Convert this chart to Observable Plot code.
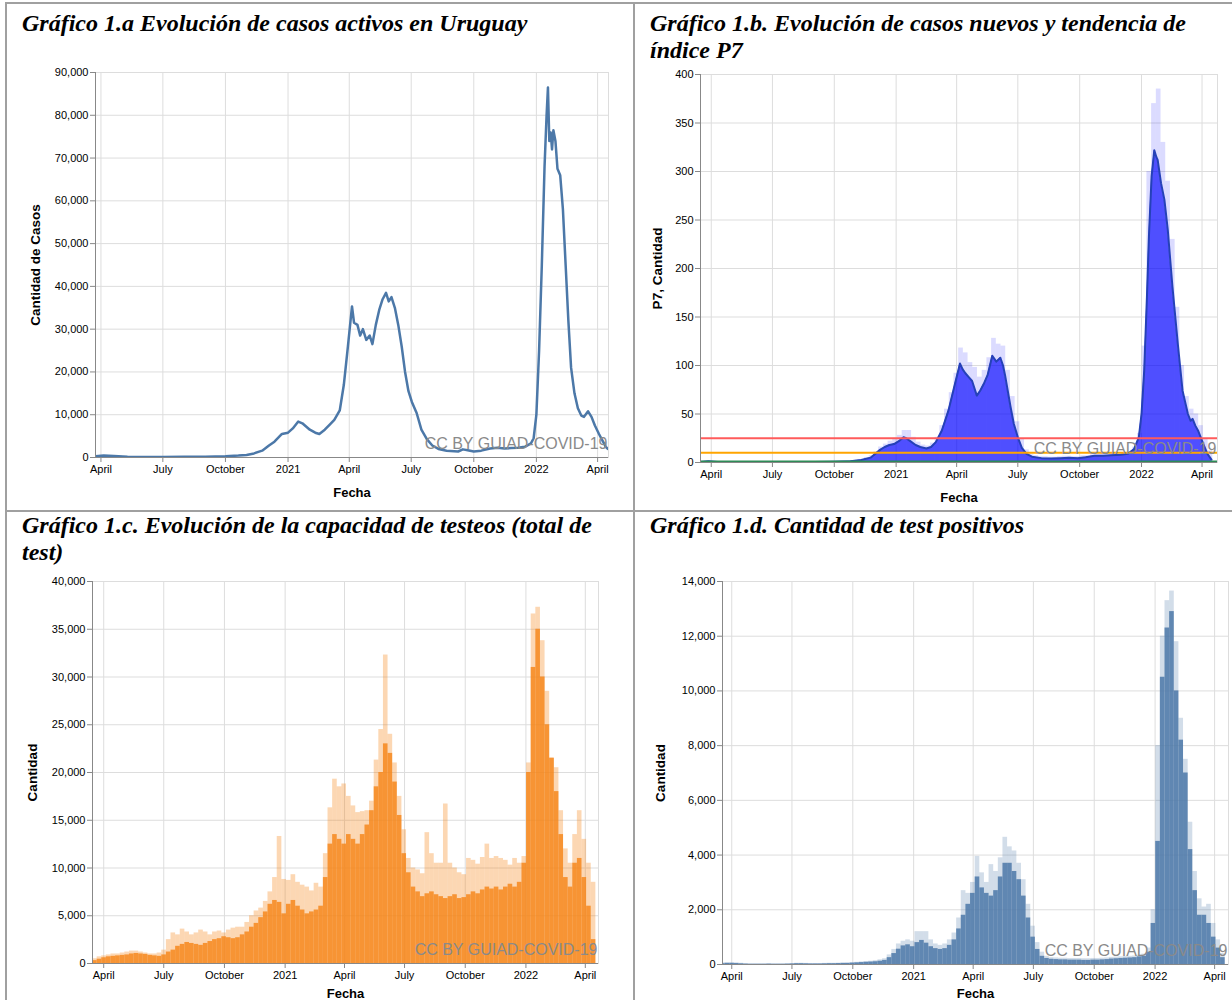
<!DOCTYPE html>
<html><head><meta charset="utf-8">
<script src="https://cdn.jsdelivr.net/npm/d3@7"></script>
<script src="https://cdn.jsdelivr.net/npm/@observablehq/plot@0.6"></script>
<style>
html,body{margin:0;padding:0;background:#fff;}
body{width:1232px;height:1000px;position:relative;overflow:hidden;font-family:"Liberation Sans",Arial,sans-serif;}
.bline{position:absolute;background:#a0a0a0;}
.title{position:absolute;font-family:"Liberation Serif","Times New Roman",serif;font-weight:bold;font-style:italic;font-size:24px;line-height:27px;color:#000;white-space:nowrap;}
svg.chart{position:absolute;overflow:visible;}
</style></head><body>
<div class="bline" style="left:5px;top:2px;width:1240px;height:2px"></div>
<div class="bline" style="left:5px;top:2px;width:2px;height:1000px"></div>
<div class="bline" style="left:633px;top:2px;width:2px;height:1000px"></div>
<div class="bline" style="left:5px;top:510px;width:1240px;height:2px"></div>
<div class="title" style="left:22px;top:10px">Gráfico 1.a Evolución de casos activos en Uruguay</div>
<div class="title" style="left:650px;top:10px">Gráfico 1.b. Evolución de casos nuevos y tendencia de<br>índice P7</div>
<div class="title" style="left:22px;top:512px">Gráfico 1.c. Evolución de la capacidad de testeos (total de<br>test)</div>
<div class="title" style="left:650px;top:512px">Gráfico 1.d. Cantidad de test positivos</div>
<script>
// ---------- DATA ----------
const tickDates = ["2020-04-01","2020-07-01","2020-10-01","2021-01-01","2021-04-01","2021-07-01","2021-10-01","2022-01-01","2022-04-01"];
const tickLabels = ["April","July","October","2021","April","July","October","2022","April"];
const watermark = "CC BY GUIAD-COVID-19";

// Gráfico 1.a: casos activos
const activeDates = ["2020-03-24","2020-04-05","2020-04-20","2020-05-10","2020-06-01","2020-07-01","2020-08-01","2020-09-01","2020-10-01","2020-10-20","2020-11-01","2020-11-12","2020-11-24","2020-12-04","2020-12-12","2020-12-23","2021-01-01","2021-01-08","2021-01-16","2021-01-22","2021-02-02","2021-02-10","2021-02-16","2021-02-24","2021-03-04","2021-03-10","2021-03-18","2021-03-24","2021-03-30","2021-04-05","2021-04-08","2021-04-13","2021-04-17","2021-04-21","2021-04-26","2021-05-01","2021-05-05","2021-05-10","2021-05-15","2021-05-20","2021-05-25","2021-05-29","2021-06-02","2021-06-07","2021-06-12","2021-06-17","2021-06-22","2021-06-27","2021-07-02","2021-07-09","2021-07-16","2021-07-24","2021-08-01","2021-08-10","2021-08-22","2021-09-08","2021-09-15","2021-09-22","2021-10-01","2021-10-12","2021-10-25","2021-11-05","2021-11-15","2021-11-25","2021-12-05","2021-12-15","2021-12-24","2021-12-28","2022-01-01","2022-01-05","2022-01-09","2022-01-13","2022-01-16","2022-01-18","2022-01-20","2022-01-22","2022-01-24","2022-01-26","2022-01-29","2022-02-01","2022-02-05","2022-02-09","2022-02-13","2022-02-17","2022-02-21","2022-02-26","2022-03-03","2022-03-08","2022-03-12","2022-03-18","2022-03-23","2022-03-28","2022-04-03","2022-04-08","2022-04-13","2022-04-16"];
const activeValues = [300,450,350,200,120,100,150,200,300,450,600,950,1600,2800,3700,5500,5800,6800,8400,8000,6500,5800,5500,6500,7800,8800,11000,17000,26000,35300,31500,31000,28500,30000,27500,28500,26500,31000,34500,37000,38500,36500,37500,35000,31000,26000,20000,15500,13000,10400,6500,4300,2800,2000,1600,1400,1900,1700,1400,1600,2100,2300,2100,2200,2300,2500,3300,4500,10000,25000,45000,68000,80000,86500,74000,76000,72000,76500,74000,67500,66000,58000,45000,32000,21000,15000,11500,9800,9500,10800,9500,7500,5500,4000,2500,2000];

// Gráfico 1.b: índice P7 (tendencia) y umbrales
const p7Dates = ["2020-03-16","2020-03-28","2020-04-10","2020-05-01","2020-06-01","2020-07-01","2020-08-01","2020-09-01","2020-10-01","2020-10-25","2020-11-10","2020-11-24","2020-12-08","2020-12-15","2020-12-22","2020-12-29","2021-01-05","2021-01-12","2021-01-16","2021-01-22","2021-01-30","2021-02-06","2021-02-15","2021-02-22","2021-03-01","2021-03-10","2021-03-20","2021-03-27","2021-04-06","2021-04-10","2021-04-14","2021-04-19","2021-04-24","2021-05-01","2021-05-06","2021-05-12","2021-05-17","2021-05-24","2021-05-30","2021-06-05","2021-06-09","2021-06-12","2021-06-16","2021-06-20","2021-06-25","2021-07-01","2021-07-07","2021-07-14","2021-07-22","2021-08-05","2021-08-20","2021-09-03","2021-09-15","2021-09-28","2021-10-10","2021-10-23","2021-11-05","2021-11-17","2021-12-01","2021-12-12","2021-12-21","2021-12-28","2022-01-01","2022-01-05","2022-01-09","2022-01-12","2022-01-16","2022-01-20","2022-01-23","2022-01-25","2022-01-30","2022-02-04","2022-02-09","2022-02-16","2022-02-24","2022-03-03","2022-03-11","2022-03-15","2022-03-18","2022-03-22","2022-03-26","2022-04-03","2022-04-09","2022-04-15"];
const p7Values = [0.5,1.2,0.6,0.3,0.3,0.4,0.5,0.5,0.8,1.2,2.5,5,13,16,18,19,22,26,25,22,18,16,14.5,16,21,33,54,74,102,96,92,88,84,69,74,82,90,110,104,108,100,90,74,58,40,26,15,9,6,4.5,4,4.5,5,4.5,5.5,7,7,7.5,8,9,14,26,50,95,170,233,295,322,315,312,288,271,240,181,122,74,50,43,45,38,33,19,9,3];
const thresholds = [25, 10, 1];
const thresholdColors = ["#ff5b5b", "#ffa500", "#2e8b57"];

// Valores semanales (semana que comienza el domingo indicado)
const firstWeek = "2020-03-15";
const p7Max = [1,1.5,1.5,1.2,1,0.8,0.6,0.5,0.5,0.5,
  0.5,0.5,0.5,0.5,0.6,0.7,0.8,0.8,0.7,0.7,
  0.7,0.7,0.8,0.8,0.8,0.9,1,1,1.2,1.4,
  1.6,1.8,2,2.5,3,5,7,11,16,19,
  22,25,28,33,33,26,21,18,17,20,
  26,38,55,72,92,118,113,103,98,88,
  95,108,128,122,120,95,68,42,24,13,
  8,7,6,6,5.5,5.5,6,6.5,6.5,6,
  6,7,7,8,9,9,9,9.5,9.5,10,
  10,11,16,30,120,300,370,385,330,290,
  230,160,100,68,55,50,38,24,12];

// Gráfico 1.c: total de tests
const testsCore = [300,450,600,700,750,800,850,900,1000,1050,
  1000,950,850,800,750,900,1200,1400,1800,2000,
  2200,2100,2000,1900,2100,2300,2500,2600,2800,2700,
  2600,2700,3000,3300,3800,4200,4800,5400,6200,6600,
  6400,5200,6200,6600,6000,5600,5200,5400,5600,6000,
  9000,12500,13500,13000,12500,13500,13000,12500,13500,14500,
  16000,18500,20000,23000,22000,19000,15500,11500,9500,8000,
  7500,7000,7300,7500,7200,7000,6800,7000,7200,6800,
  6900,7200,7500,7300,7700,8000,7800,8000,7700,8000,
  8300,8000,8500,10500,20000,31000,35000,30000,25000,21500,
  18000,13500,9000,8000,10500,11000,9000,6000,2500];
const testsMax = [500,700,800,900,1000,1000,1100,1200,1300,1300,
  1200,1100,1000,1000,1100,1400,2500,3200,3000,3600,
  3300,3000,3200,3500,3300,3000,3300,3400,3200,3500,
  3700,3800,3800,4300,5000,5500,5800,6500,7500,9000,
  13300,8800,8700,9300,8500,8200,8000,7600,8400,8000,
  11500,16300,19300,18500,18800,17500,16500,15800,15900,16000,
  17000,21300,24500,32300,24000,21000,17500,14000,11000,10000,
  9800,9400,13700,11500,10500,10500,16700,10500,10000,9500,
  9300,11000,10800,10400,11100,12500,11000,11200,11000,10800,
  10300,11000,10500,11200,21000,36600,37300,33800,28500,21500,
  20500,16000,12000,10500,13500,16000,13000,10500,8500];

// Gráfico 1.d: tests positivos
const positivesCore = [30,40,40,35,25,15,10,10,10,10,
  15,10,10,10,15,20,30,30,25,20,
  20,20,25,30,30,35,40,40,50,60,
  70,80,90,100,120,150,250,400,560,680,
  720,650,800,880,780,650,580,550,580,700,
  900,1300,1800,2200,2600,3200,2800,2600,2500,2700,
  3200,3700,3700,3400,3100,2500,1700,1000,550,300,
  220,190,180,170,170,160,160,160,150,150,
  160,160,170,180,200,210,220,230,240,250,
  280,300,450,1500,4500,10500,12300,12900,10000,8200,
  7000,4200,2700,1800,1800,1500,1000,600,250];
const positivesMax = [60,70,70,60,45,30,20,20,20,20,
  25,20,20,20,25,35,45,45,40,35,
  35,35,40,45,45,50,55,60,70,80,
  95,110,120,140,170,210,350,550,750,850,
  900,850,1200,1200,1200,900,750,700,750,900,
  1150,1700,2700,2600,3000,3950,3350,3000,3650,3400,
  3900,4650,4300,4150,3700,3100,2200,1400,800,450,
  300,250,240,230,230,220,220,220,210,210,
  220,220,230,240,260,270,280,290,300,310,
  340,380,600,2000,8000,12000,13300,13650,11800,9000,
  7500,5200,3400,2400,2100,2200,1500,900,400];

// ---------- BUILD ----------
const parse = d3.utcParse("%Y-%m-%d");
const ticks = tickDates.map(parse);
const labelOf = new Map(ticks.map((d, i) => [+d, tickLabels[i]]));
const weekStarts = testsCore.map((_, i) => d3.utcDay.offset(parse(firstWeek), 7 * i));
const weekly = vals => vals.map((v, i) => ({start: weekStarts[i], end: d3.utcDay.offset(weekStarts[i], 7), v}));
const series = (dates, vals) => dates.map((d, i) => ({date: parse(d), v: vals[i]}));

function panel({left, top, right, bottom, xDomain, yMax, yStep, yLabel, yTitleX, xTitleY, marks}) {
  const mL = 85, mT = 12, mR = 20, mB = 48;
  const yTicks = d3.range(0, yMax + 1, yStep);
  const svg = Plot.plot({
    width: (right - left) + mL + mR,
    height: (bottom - top) + mT + mB,
    marginLeft: mL, marginTop: mT, marginRight: mR, marginBottom: mB,
    style: {fontFamily: "'Liberation Sans', Arial, sans-serif", fontSize: "11px", background: "transparent", overflow: "visible", color: "#000"},
    x: {type: "utc", domain: xDomain.map(parse)},
    y: {domain: [0, yMax]},
    marks: [
      Plot.gridX({ticks, stroke: "#ddd", strokeOpacity: 1}),
      Plot.gridY({ticks: yTicks, stroke: "#ddd", strokeOpacity: 1}),
      Plot.frame({stroke: "#ddd"}),
      ...marks,
      Plot.text([watermark], {frameAnchor: "bottom-right", textAnchor: "end", lineAnchor: "middle", dx: -1, dy: -14, fontSize: 16, fill: "#8a8a8a"}),
      Plot.ruleY([0], {stroke: "#888"}),
      Plot.ruleX([parse(xDomain[0])], {stroke: "#888"}),
      Plot.axisX({ticks, tickFormat: d => labelOf.get(+d), tickSize: 5, tickPadding: 3, stroke: "#888", fill: "#000", fontSize: 11, label: null}),
      Plot.axisY({ticks: yTicks, tickFormat: d3.format(","), tickSize: 5, tickPadding: 2, stroke: "#888", fill: "#000", fontSize: 11, label: null}),
      Plot.text(["Fecha"], {frameAnchor: "bottom", lineAnchor: "middle", dy: xTitleY - bottom, fontWeight: "bold", fontSize: 13, fill: "#000"}),
      Plot.text([yLabel], {frameAnchor: "left", textAnchor: "middle", lineAnchor: "middle", rotate: -90, dx: yTitleX - left, fontWeight: "bold", fontSize: 13.5, fill: "#000"})
    ]
  });
  svg.classList.add("chart");
  svg.style.left = (left - mL) + "px";
  svg.style.top = (top - mT) + "px";
  document.body.appendChild(svg);
}

// 1.a
panel({
  left: 95, top: 72, right: 608, bottom: 457,
  xDomain: ["2020-03-24", "2022-04-17"], yMax: 90000, yStep: 10000,
  yLabel: "Cantidad de Casos", yTitleX: 35, xTitleY: 492,
  marks: [
    Plot.line(series(activeDates, activeValues), {x: "date", y: "v", stroke: "#4c78a8", strokeWidth: 2.5, clip: true})
  ]
});

// 1.b
const p7 = series(p7Dates, p7Values);
panel({
  left: 700, top: 74, right: 1217, bottom: 462,
  xDomain: ["2020-03-16", "2022-04-24"], yMax: 400, yStep: 50,
  yLabel: "P7, Cantidad", yTitleX: 657, xTitleY: 497,
  marks: [
    Plot.rect(weekly(p7Max), {x1: "start", x2: "end", y1: () => 0, y2: "v", fill: "#0000ff", fillOpacity: 0.14, clip: true}),
    Plot.areaY(p7, {x: "date", y: "v", fill: "#0000ff", fillOpacity: 0.64, clip: true}),
    Plot.line(p7, {x: "date", y: "v", stroke: "#2541b8", strokeWidth: 2, clip: true}),
    Plot.ruleY(thresholds, {y: d => d, stroke: (d, i) => thresholdColors[i], strokeWidth: 2})
  ]
});

// 1.c
panel({
  left: 92, top: 581, right: 598, bottom: 963,
  xDomain: ["2020-03-15", "2022-04-21"], yMax: 40000, yStep: 5000,
  yLabel: "Cantidad", yTitleX: 32, xTitleY: 993,
  marks: [
    Plot.rect(weekly(testsMax), {x1: "start", x2: "end", y1: () => 0, y2: "v", fill: "#f58518", fillOpacity: 0.33, clip: true}),
    Plot.rect(weekly(testsCore), {x1: "start", x2: "end", y1: () => 0, y2: "v", fill: "#f58518", fillOpacity: 0.82, clip: true})
  ]
});

// 1.d
panel({
  left: 722, top: 581, right: 1228, bottom: 964,
  xDomain: ["2020-03-18", "2022-04-22"], yMax: 14000, yStep: 2000,
  yLabel: "Cantidad", yTitleX: 660, xTitleY: 993,
  marks: [
    Plot.rect(weekly(positivesMax), {x1: "start", x2: "end", y1: () => 0, y2: "v", fill: "#4c78a8", fillOpacity: 0.25, clip: true}),
    Plot.rect(weekly(positivesCore), {x1: "start", x2: "end", y1: () => 0, y2: "v", fill: "#4c78a8", fillOpacity: 0.85, clip: true})
  ]
});
</script>
</body></html>
